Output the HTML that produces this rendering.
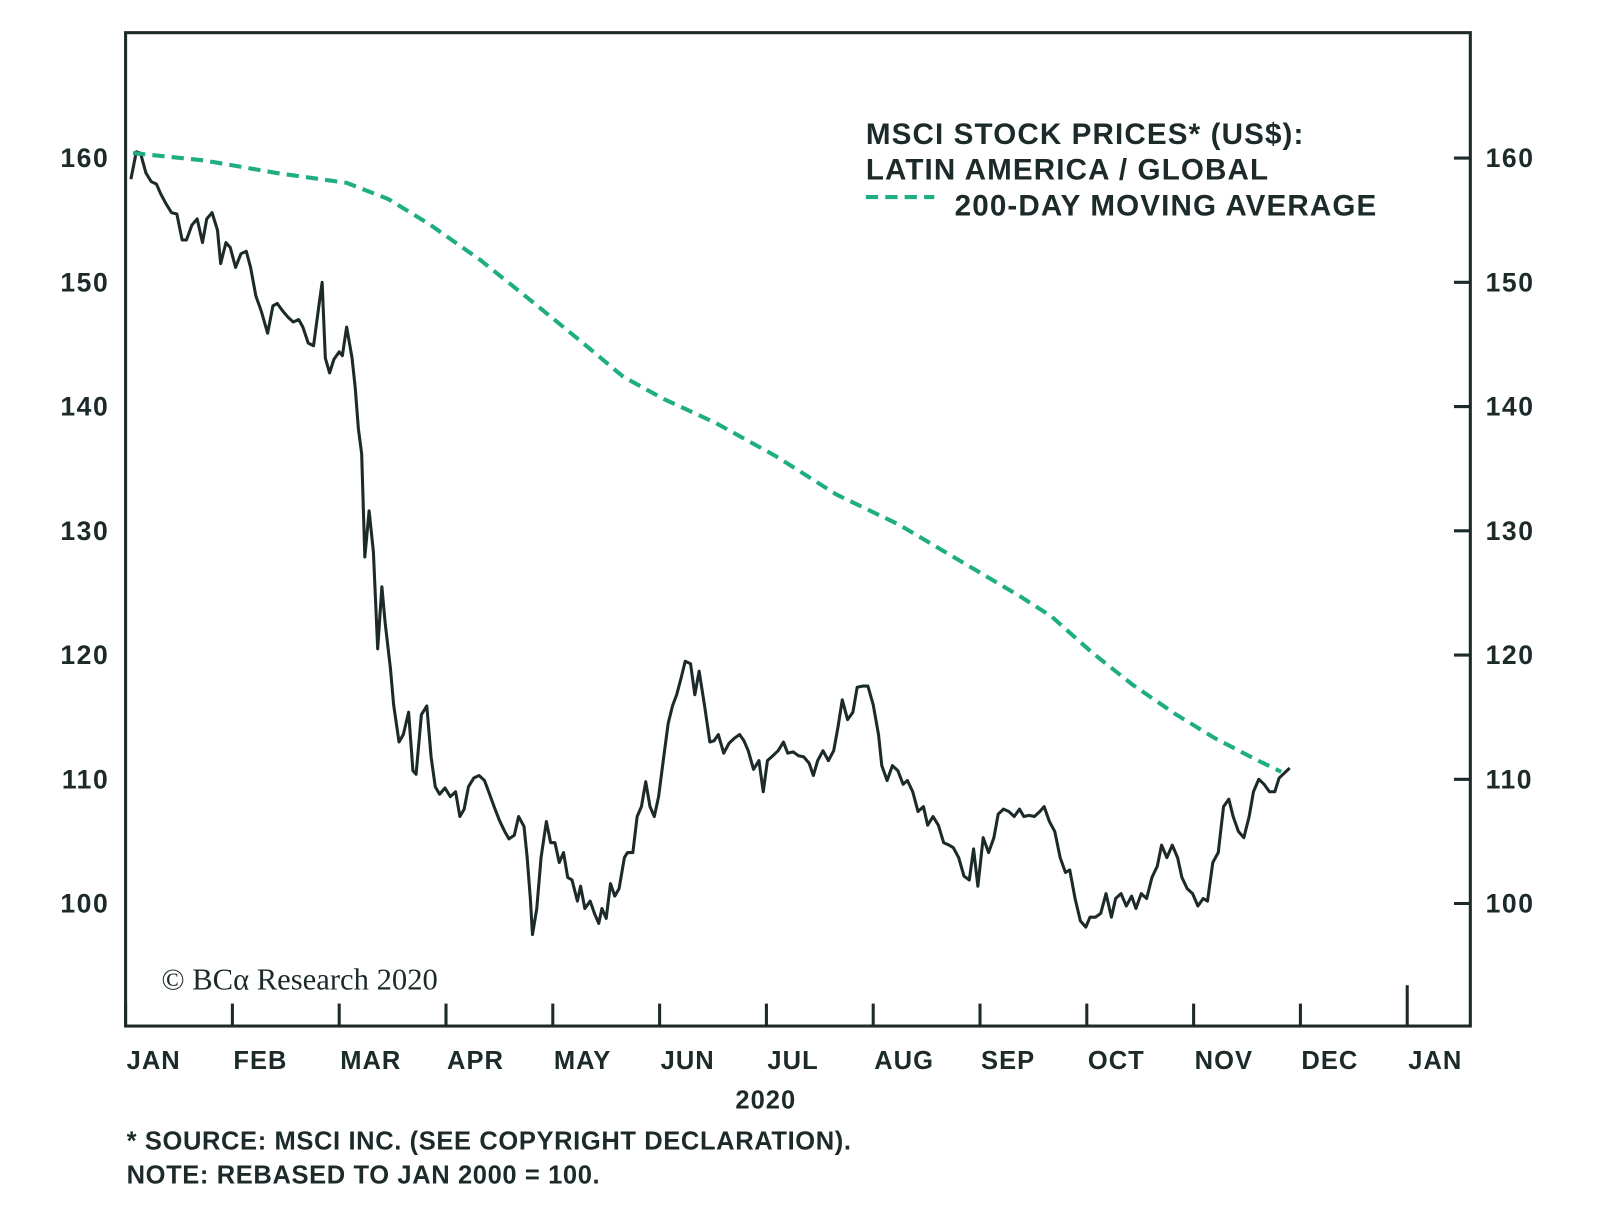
<!DOCTYPE html>
<html><head><meta charset="utf-8"><style>
body{margin:0;background:#fff;}
svg text{font-family:"Liberation Sans",sans-serif;fill:#1d2a2a;font-weight:bold;}
</style></head><body>
<svg id="chart" width="1600" height="1219" viewBox="0 0 1567 1194" preserveAspectRatio="none">
<rect x="123" y="32" width="1317" height="973" fill="none" stroke="#1d2a2a" stroke-width="3"/>
<g id="axes"></g>
<g id="series"></g>
<g>
<text x="848" y="141" font-size="29" letter-spacing="1.1">MSCI STOCK PRICES* (US$):</text>
<text x="848" y="176" font-size="29" letter-spacing="1.1">LATIN AMERICA / GLOBAL</text>
<line x1="848" y1="193" x2="915" y2="193" stroke="#1fae84" stroke-width="4" stroke-dasharray="12,7"/>
<text x="935" y="211" font-size="29" letter-spacing="1.1">200-DAY MOVING AVERAGE</text>
</g>
<text x="158" y="969" font-size="30" style="font-family:'Liberation Serif',serif;font-weight:normal">© BCα Research 2020</text>
<text x="750" y="1086" font-size="25" letter-spacing="1" text-anchor="middle">2020</text>
<text x="124" y="1126" font-size="25" letter-spacing="0.6">* SOURCE: MSCI INC. (SEE COPYRIGHT DECLARATION).</text>
<text x="124" y="1159" font-size="25" letter-spacing="0.6">NOTE: REBASED TO JAN 2000 = 100.</text>
</svg>
<script>
const monthLabels=["JAN","FEB","MAR","APR","MAY","JUN","JUL","AUG","SEP","OCT","NOV","DEC","JAN"];
const yTicks=[100,110,120,130,140,150,160];
const priceMonths=[0.05,0.10,0.14,0.19,0.24,0.29,0.33,0.38,0.43,0.48,0.53,0.57,0.62,0.67,0.72,0.76,0.81,0.86,0.89,0.94,0.98,1.03,1.08,1.13,1.17,1.22,1.27,1.33,1.38,1.42,1.47,1.52,1.57,1.62,1.66,1.71,1.76,1.81,1.84,1.87,1.91,1.95,2.00,2.03,2.07,2.12,2.15,2.18,2.21,2.24,2.28,2.32,2.36,2.40,2.43,2.48,2.51,2.56,2.60,2.65,2.69,2.72,2.77,2.82,2.86,2.90,2.94,2.99,3.04,3.09,3.13,3.17,3.21,3.26,3.31,3.36,3.40,3.45,3.50,3.55,3.59,3.64,3.68,3.73,3.76,3.79,3.81,3.85,3.89,3.94,3.98,4.02,4.06,4.10,4.14,4.18,4.23,4.26,4.30,4.35,4.39,4.43,4.46,4.50,4.54,4.58,4.62,4.67,4.70,4.75,4.79,4.83,4.87,4.91,4.95,4.99,5.04,5.08,5.12,5.16,5.20,5.24,5.29,5.33,5.37,5.42,5.47,5.51,5.55,5.60,5.65,5.70,5.75,5.79,5.83,5.88,5.93,5.97,6.01,6.06,6.11,6.16,6.20,6.25,6.30,6.35,6.40,6.44,6.48,6.53,6.58,6.63,6.67,6.71,6.76,6.81,6.85,6.90,6.95,7.00,7.05,7.08,7.13,7.18,7.23,7.28,7.32,7.37,7.42,7.47,7.51,7.56,7.61,7.66,7.71,7.75,7.80,7.85,7.90,7.94,7.98,8.03,8.08,8.13,8.17,8.22,8.27,8.32,8.37,8.41,8.46,8.51,8.56,8.60,8.65,8.70,8.75,8.80,8.84,8.89,8.94,8.99,9.03,9.08,9.13,9.18,9.23,9.27,9.32,9.37,9.42,9.46,9.51,9.56,9.61,9.66,9.70,9.75,9.80,9.85,9.89,9.94,9.99,10.04,10.09,10.13,10.18,10.23,10.28,10.33,10.37,10.42,10.47,10.52,10.56,10.61,10.66,10.71,10.76,10.80,10.85,10.90];
const priceValues=[158.3,160.5,160.4,158.8,158.1,157.9,157.1,156.3,155.6,155.5,153.4,153.4,154.6,155.1,153.2,155.1,155.6,154.2,151.5,153.2,152.8,151.2,152.3,152.5,151.2,148.9,147.7,145.9,148.1,148.3,147.7,147.2,146.8,147.0,146.4,145.1,144.9,148.1,150.0,143.9,142.7,143.8,144.4,144.1,146.4,143.9,141.5,138.2,136.2,127.9,131.6,128.3,120.5,125.5,122.6,118.9,116.0,113.0,113.6,115.4,110.7,110.4,115.2,115.9,111.8,109.4,108.8,109.3,108.6,109.0,107.0,107.6,109.4,110.1,110.3,109.9,109.0,107.8,106.7,105.8,105.2,105.5,107.0,106.2,103.7,100.4,97.5,99.6,103.7,106.6,104.9,104.9,103.3,104.1,102.1,101.9,100.2,101.4,99.6,100.2,99.2,98.4,99.6,98.8,101.6,100.6,101.2,103.7,104.1,104.1,107.0,107.8,109.8,107.8,107.0,108.6,111.9,114.5,115.9,116.8,118.1,119.5,119.3,116.8,118.7,116.0,113.0,113.1,113.6,112.1,112.9,113.3,113.6,113.1,112.3,110.8,111.5,109.0,111.5,111.9,112.3,113.0,112.1,112.2,111.9,111.8,111.3,110.3,111.5,112.3,111.5,112.3,114.2,116.4,114.8,115.4,117.4,117.5,117.5,116.0,113.6,111.1,109.9,111.1,110.7,109.6,109.9,109.0,107.4,107.8,106.3,107.0,106.3,104.9,104.7,104.5,103.7,102.2,101.9,104.4,101.4,105.3,104.1,105.3,107.2,107.6,107.4,107.0,107.6,107.0,107.1,107.0,107.4,107.8,106.6,105.8,103.7,102.5,102.7,100.4,98.6,98.1,98.9,98.9,99.2,100.8,98.9,100.4,100.8,99.8,100.6,99.6,100.8,100.4,102.1,103.0,104.7,103.7,104.7,103.7,102.1,101.2,100.8,99.8,100.4,100.2,103.3,104.1,107.8,108.4,107.0,105.8,105.3,107.0,109.0,110.0,109.6,109.0,109.0,110.1,110.5,110.9];
const maMonths=[0.07,0.74,1.41,2.07,2.46,2.84,3.32,3.80,4.27,4.66,5.04,5.52,6.09,6.66,7.24,7.81,8.38,8.67,9.05,9.43,9.82,10.2,10.58,10.82];
const maValues=[160.4,159.8,158.8,158.0,156.7,154.7,151.8,148.5,145.2,142.4,140.6,138.7,136.0,132.9,130.5,127.6,124.7,123.1,120.2,117.6,115.3,113.3,111.6,110.6];

const NS="http://www.w3.org/2000/svg";
const x=m=>123+m*104.6;
const y=v=>885-(v-100)*12.17;
function mk(tag,attrs,parent){const e=document.createElementNS(NS,tag);for(const k in attrs)e.setAttribute(k,attrs[k]);parent.appendChild(e);return e;}
const axes=document.getElementById('axes'), series=document.getElementById('series');
monthLabels.forEach((lab,i)=>{
  const t=mk('line',{x1:x(i),x2:x(i),y1:i===12?965:983,y2:1005,stroke:'#1d2a2a','stroke-width':3},axes);
  
  
  const tx=mk('text',{x:x(i)+1,y:1047,'font-size':25,'letter-spacing':1},axes);tx.textContent=lab;
  
  
});
yTicks.forEach(v=>{
  const l=mk('line',{x1:1424,x2:1440,y1:y(v),y2:y(v),stroke:'#1d2a2a','stroke-width':3},axes);
  
  
  const a=mk('text',{x:107,y:y(v)+9,'font-size':26,'letter-spacing':1.5,'text-anchor':'end'},axes);a.textContent=v;
  
  
  const b=mk('text',{x:1455,y:y(v)+9,'font-size':26,'letter-spacing':1.5},axes);b.textContent=v;
  
  
});
const n=Math.min(priceValues.length,priceMonths.length);
const pp=priceValues.slice(0,n).map((v,i)=>x(priceMonths[i]).toFixed(1)+','+y(v).toFixed(1)).join(' ');
const pl=mk('polyline',{points:pp,fill:'none',stroke:'#1d2a2a','stroke-width':3,'stroke-linejoin':'round'},series);


const mp=maValues.map((v,i)=>x(maMonths[i]).toFixed(1)+','+y(v).toFixed(1)).join(' ');
const ml=mk('polyline',{points:mp,fill:'none',stroke:'#1fae84','stroke-width':4,'stroke-dasharray':'12,7'},series);


</script>
</body></html>
